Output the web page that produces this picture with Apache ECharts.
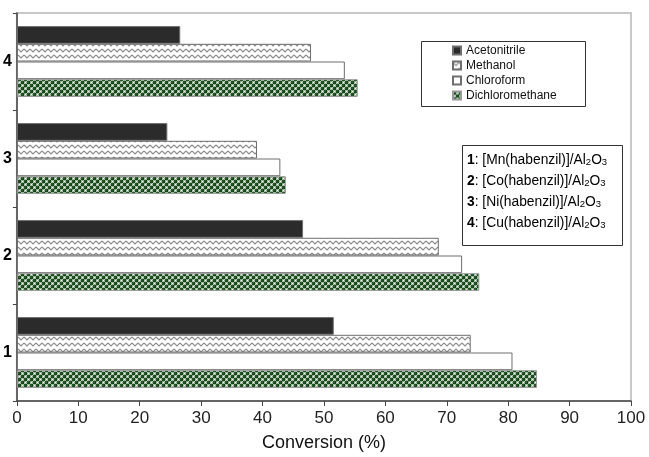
<!DOCTYPE html>
<html>
<head>
<meta charset="utf-8">
<script src="https://cdn.jsdelivr.net/npm/echarts@6/dist/echarts.min.js"></script>
<style>html,body{margin:0;padding:0;background:#fff}#c{width:649px;height:457px}</style>
</head>
<body>
<div id="c"></div>
<script>
var categories = ['1', '2', '3', '4'];
var acetonitrile = [51.6, 46.6, 24.5, 26.6];
var methanol = [73.9, 68.7, 39.1, 47.9];
var chloroform = [80.7, 72.5, 42.9, 53.4];
var dichloromethane = [84.7, 75.3, 43.8, 55.5];
var xTicks = [0, 10, 20, 30, 40, 50, 60, 70, 80, 90, 100];
var seriesNames = ['Acetonitrile', 'Methanol', 'Chloroform', 'Dichloromethane'];
var complexes = [
  ['1', 'Mn'], ['2', 'Co'], ['3', 'Ni'], ['4', 'Cu']
];

function zigzag() {
  var c = document.createElement('canvas'); c.width = 6; c.height = 6;
  var g = c.getContext('2d');
  g.fillStyle = '#fff'; g.fillRect(0, 0, 6, 6);
  g.strokeStyle = '#8a8a8a'; g.lineWidth = 1.1;
  g.beginPath(); g.moveTo(0, 1); g.lineTo(3, 4); g.lineTo(6, 1); g.stroke();
  return c;
}
function dots() {
  var c = document.createElement('canvas'); c.width = 6; c.height = 6;
  var g = c.getContext('2d');
  g.fillStyle = '#ffffff'; g.fillRect(0, 0, 6, 6);
  g.fillStyle = '#0f4512';
  [[1.5, 1.5], [4.5, 4.5], [-1.5, 4.5], [7.5, 1.5], [1.5, 7.5], [4.5, -1.5]].forEach(function (p) {
    g.beginPath(); g.arc(p[0], p[1], 1.95, 0, Math.PI * 2); g.fill();
  });
  g.fillStyle = '#6a9a6c';
  [[1.0, 1.0], [4.0, 4.0]].forEach(function (p) {
    g.beginPath(); g.arc(p[0], p[1], 0.55, 0, Math.PI * 2); g.fill();
  });
  return c;
}

var chart = echarts.init(document.getElementById('c'), null, {renderer: 'canvas'});
var bw = {borderColor: '#6e6e6e', borderWidth: 1};
var styles = {
  'Acetonitrile': Object.assign({color: '#2b2b2b'}, bw),
  'Methanol': Object.assign({color: {image: zigzag(), repeat: 'repeat'}}, bw),
  'Chloroform': Object.assign({color: '#ffffff'}, bw),
  'Dichloromethane': Object.assign({color: {image: dots(), repeat: 'repeat'}}, {borderColor: '#999', borderWidth: 1})
};
var dataMap = {
  'Acetonitrile': acetonitrile, 'Methanol': methanol,
  'Chloroform': chloroform, 'Dichloromethane': dichloromethane
};
var series = seriesNames.map(function (n) {
  return {
    name: n, type: 'bar', data: dataMap[n], itemStyle: styles[n],
    barGap: 0, barCategoryGap: '27%', silent: true
  };
});

var font = 'Liberation Sans, Arial, sans-serif';
var annoTexts = complexes.map(function (c, i) {
  return {
    type: 'text', left: 467, top: 153 + i * 21, z: 20,
    style: {
      text: '{b|' + c[0] + '}{n|: [' + c[1] + '(habenzil)]/Al}{s|2}{n|O}{s|3}',
      rich: {
        b: {fontWeight: 'bold', fontSize: 13.8, fontFamily: font, fill: '#000', verticalAlign: 'bottom', lineHeight: 16},
        n: {fontSize: 13.8, fontFamily: font, fill: '#000', verticalAlign: 'bottom', lineHeight: 16},
        s: {fontSize: 9.5, fontFamily: font, fill: '#000', verticalAlign: 'bottom', lineHeight: 12}
      }
    }
  };
});

chart.setOption({
  animation: false,
  grid: {left: 15, right: 18, top: 13, bottom: 50, show: true, borderColor: '#c8c8c8', borderWidth: 2, containLabel: false},
  legend: {
    data: seriesNames, orient: 'vertical', left: 452, top: 44, z: 20,
    itemWidth: 8, itemHeight: 8, itemGap: 2, padding: 0, icon: 'rect',
    textStyle: {fontSize: 12, fontFamily: font, color: '#111', lineHeight: 13},
    selectedMode: false
  },
  xAxis: {
    type: 'value', min: xTicks[0], max: xTicks[xTicks.length - 1], interval: 10,
    name: 'Conversion (%)', nameLocation: 'middle', nameGap: 33,
    nameTextStyle: {fontSize: 18, fontFamily: font, color: '#111'},
    axisLine: {show: true, lineStyle: {color: '#444', width: 1.5}},
    axisTick: {show: true, length: 5, lineStyle: {color: '#444'}},
    axisLabel: {fontSize: 17, fontFamily: font, color: '#222', margin: 9},
    splitLine: {show: false}
  },
  yAxis: {
    type: 'category', data: categories,
    axisLine: {show: true, lineStyle: {color: '#444', width: 1.5}},
    axisTick: {show: true, length: 4, lineStyle: {color: '#444'}},
    axisLabel: {fontSize: 16, fontWeight: 'bold', fontFamily: font, color: '#000', margin: 5},
    splitLine: {show: false}
  },
  series: series,
  graphic: [
    {type: 'rect', z: 15, shape: {x: 421.5, y: 41.5, width: 164, height: 65}, style: {fill: '#fff', stroke: '#333', lineWidth: 1}},
    {type: 'rect', z: 15, shape: {x: 462.5, y: 145.5, width: 160, height: 100}, style: {fill: '#fff', stroke: '#333', lineWidth: 1}}
  ].concat(annoTexts)
});
</script>
</body>
</html>
